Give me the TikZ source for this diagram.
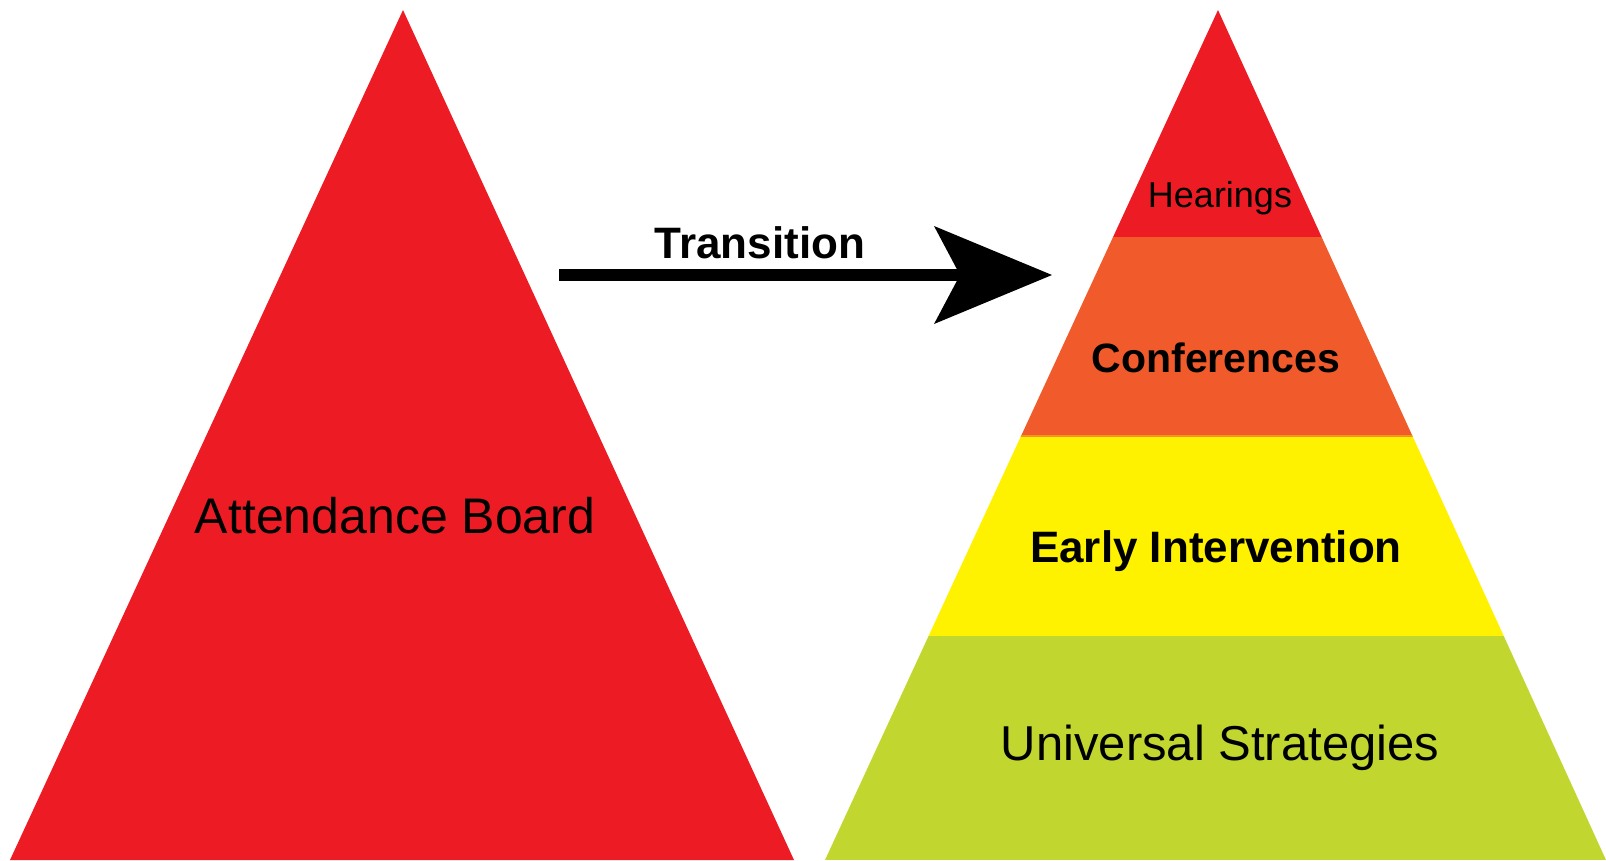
\documentclass[tikz,border=0pt]{standalone}
\usepackage{fontspec}
\setmainfont{Liberation Sans}
\usetikzlibrary{arrows.meta}
\definecolor{tierred}{HTML}{ED1C24}
\definecolor{tierorange}{HTML}{F15A2B}
\definecolor{tierline}{HTML}{F7941D}
\definecolor{tieryellow}{HTML}{FFF200}
\definecolor{tiergreen}{HTML}{C1D72F}
\begin{document}
\begin{tikzpicture}[x=1pt,y=-1pt]
        \tikzset{lbl/.style={anchor=base,inner sep=0pt},
          thin lbl/.style={lbl,font=\fontsize{36}{42}\selectfont},
          big lbl/.style={lbl,font=\fontsize{50}{58}\selectfont},
          bold lbl/.style={lbl,font=\bfseries\fontsize{44}{52}\selectfont}}
          \useasboundingbox (0,0) rectangle (1606,860);
          % left pyramid
          \fill[tierred] (403,10) -- (10,860) -- (794,860) -- cycle;
          % right pyramid, cut into tiers
          \begin{scope}
            \clip (1218,10) -- (825,860) -- (1606,860) -- cycle;
            \fill[tierred] (800,0) rectangle (1606,237);
            \fill[tierorange] (800,237) rectangle (1606,436);
            \fill[tieryellow] (800,436) rectangle (1606,636);
            \fill[tiergreen] (800,636) rectangle (1606,860);
            \draw[tierline,line width=2pt] (800,436) -- (1606,436);
          \end{scope}
          \node[big lbl] (board) at (395,533) {Attendance Board};
          \node[thin lbl] (hear) at (1220,207) {Hearings};
          \node[bold lbl,font=\bfseries\fontsize{41}{48}\selectfont] (conf) at (1216,372) {Conferences};
          \node[bold lbl] (early) at (1216,562) {Early Intervention};
          \node[big lbl,font=\fontsize{49}{56}\selectfont] (univ) at (1220,760) {Universal Strategies};
          \node[bold lbl] (trans) at (760,258) {Transition};
          \coordinate (from) at (559,275);
          \coordinate (to) at (1052,275);
          \draw[line width=12.5pt,-{Stealth[length=118pt,width=98pt,inset=26pt,line width=0pt]}] (from) -- (to);
      \end{tikzpicture}
\end{document}
